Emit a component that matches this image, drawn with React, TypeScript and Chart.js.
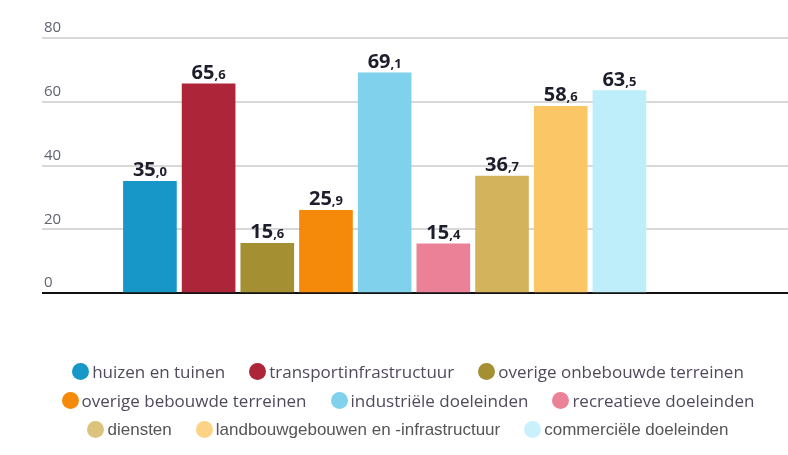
import React, { useEffect, useRef } from 'react';
import { Chart, registerables } from 'chart.js';

Chart.register(...registerables);

const categories = [
  'huizen en tuinen',
  'transportinfrastructuur',
  'overige onbebouwde terreinen',
  'overige bebouwde terreinen',
  'industriële doeleinden',
  'recreatieve doeleinden',
  'diensten',
  'landbouwgebouwen en -infrastructuur',
  'commerciële doeleinden',
];

const values = [35.0, 65.6, 15.6, 25.9, 69.1, 15.4, 36.7, 58.6, 63.5];

const colors = [
  '#1797c7',
  '#ad2539',
  '#a48f33',
  '#f5890a',
  '#80d2ec',
  '#ea8196',
  '#d3b45c',
  '#fbc766',
  '#bdeefa',
];

const yTickMin = 0;
const yTickMax = 80;
const yTickStep = 20;

const valueLabels = {
  id: 'valueLabels',
  afterDatasetsDraw(chart: any) {
    const ctx = chart.ctx;
    const meta = chart.getDatasetMeta(0);
    const data = chart.data.datasets[0].data as any[];
    meta.data.forEach((bar: any, i: number) => {
      const v = data[i].y as number;
      const [intPart, decPart] = v.toFixed(1).split('.');
      const bigFont = '700 20px "Open Sans"';
      const smallFont = '700 13px "Open Sans"';
      ctx.save();
      ctx.font = bigFont;
      const w1 = ctx.measureText(intPart).width;
      ctx.font = smallFont;
      const w2 = ctx.measureText(',' + decPart).width;
      const x0 = bar.x - (w1 + w2) / 2;
      const y = bar.y - 5;
      ctx.textBaseline = 'alphabetic';
      ctx.textAlign = 'left';
      ctx.fillStyle = '#1d1d2b';
      ctx.font = bigFont;
      ctx.fillText(intPart, x0, y);
      ctx.font = smallFont;
      ctx.fillText(',' + decPart, x0 + w1, y);
      ctx.restore();
    });
  },
};

export default function App() {
  const canvasRef = useRef<HTMLCanvasElement | null>(null);

  useEffect(() => {
    if (!canvasRef.current) return;
    const chart = new Chart(canvasRef.current, {
      type: 'bar',
      data: {
        datasets: [
          {
            data: values.map((v, i) => ({ x: i, y: v })),
            backgroundColor: colors,
            barThickness: 53,
          } as any,
        ],
      },
      options: {
        responsive: false,
        animation: false,
        layout: { padding: { left: 38, top: 38, right: 0, bottom: 162 } },
        plugins: {
          legend: { display: false },
          tooltip: { enabled: false },
        },
        scales: {
          x: {
            type: 'linear',
            min: -1.839,
            max: 10.873,
            offset: false,
            display: false,
          },
          y: {
            min: yTickMin,
            max: yTickMax,
            border: { display: false },
            grid: {
              drawTicks: false,
              lineWidth: 2,
              color: (c: any) => (c.tick && c.tick.value === 0 ? '#111111' : '#d8d8d8'),
            },
            ticks: {
              stepSize: yTickStep,
              mirror: true,
              padding: 2,
              labelOffset: -10,
              color: '#5f6472',
              font: { family: '"Open Sans"', size: 15 },
            },
          },
        },
      },
      plugins: [valueLabels],
    });
    return () => chart.destroy();
  }, []);

  return (
    <div style={{ position: 'fixed', left: 0, top: 0, width: 788, height: 455, background: '#ffffff' }}>
      <canvas ref={canvasRef} width={788} height={455} style={{ display: 'block' }} />
      <div
        style={{
          position: 'absolute',
          left: 38,
          top: 357,
          width: 740,
          display: 'flex',
          flexWrap: 'wrap',
          justifyContent: 'center',
          columnGap: 24,
          fontFamily: '"Open Sans"',
          fontSize: 17,
          lineHeight: '29px',
          color: '#504a5c',
        }}
      >
        {categories.map((c, i) => (
          <div
            key={c}
            style={{
              display: 'flex',
              alignItems: 'center',
              whiteSpace: 'nowrap',
              fontFamily: i >= 6 ? '"Liberation Sans"' : '"Open Sans"',
              color: i >= 6 ? '#555555' : '#504a5c',
            }}
          >
            <span
              style={{
                display: 'inline-block',
                width: 17,
                height: 17,
                borderRadius: '50%',
                background: colors[i],
                marginRight: 3,
                opacity: i >= 6 ? 0.8 : 1,
              }}
            />
            <span>{c}</span>
          </div>
        ))}
      </div>
    </div>
  );
}
